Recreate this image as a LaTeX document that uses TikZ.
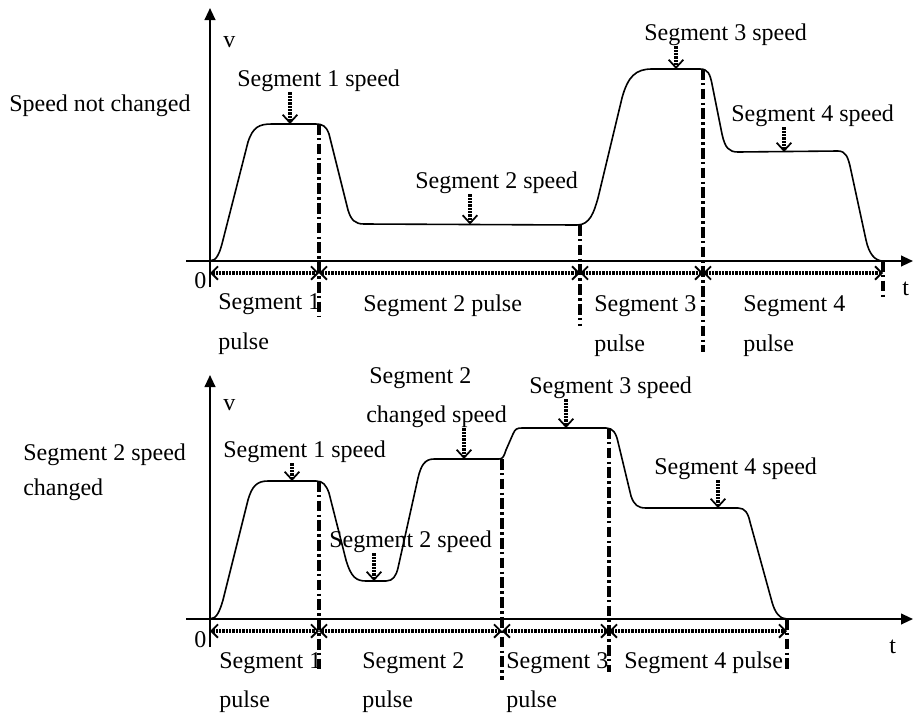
\documentclass[tikz,border=0pt]{standalone}
\usepackage{fontspec}
\setmainfont{Liberation Serif}
\usepackage{tikz}
\usetikzlibrary{arrows.meta}

\tikzset{
  lbl/.style={anchor=base west,inner sep=0.75pt,font=\fontsize{18}{22}\selectfont},
  speedcurve/.style={line width=1.2pt,line join=round},
  axis/.style={line width=1.5pt,-{Triangle[length=9pt,width=8pt]}},
  boundary/.style={line width=2.8pt,dash pattern=on 8pt off 2.5pt on 1.8pt off 2.5pt},
  pulse/.style={line width=2.8pt,dash pattern=on 1.7pt off 0.8pt,
    {Straight Barb[length=5pt,width=10pt,line width=1.4pt]}-{Straight Barb[length=5pt,width=10pt,line width=1.4pt]}},
  pointer/.style={line width=2.8pt,dash pattern=on 1.7pt off 0.8pt,
    -{Straight Barb[length=6pt,width=11pt,line width=1.3pt]}}
}

\begin{document}
\begin{tikzpicture}[x=0.75pt,y=0.75pt,yscale=-1,xscale=1]
\path[use as bounding box] (0,0) rectangle (914,718);

%%%%%%%%%% upper plot: speed not changed
%Shape: Axis 2D
\draw[axis] (186,261) -- (913,261);
\draw[axis] (210,287) -- (210,8);

%Straight Lines: segment boundaries
\draw[boundary] (319,124) -- (319,316);
\draw[boundary] (580,225) -- (580,326);
\draw[boundary] (703,69) -- (703,352);
\draw[boundary] (883,261) -- (883,297);

%Curve Lines
\draw[speedcurve] (210,261) .. controls (217,261) and (220,252) .. (223,240) -- (248,142)
  .. controls (253,127) and (259,124) .. (272,124) -- (315,124)
  .. controls (323,124) and (326,126) .. (329,134) -- (348,210)
  .. controls (351,220) and (355,224) .. (364,224) -- (577,225)
  .. controls (590,225) and (594,212) .. (598,198) -- (622,98)
  .. controls (628,76) and (636,69) .. (652,69) -- (700,69)
  .. controls (708,69) and (710,74) .. (712,84) -- (722,134)
  .. controls (725,148) and (729,152) .. (738,152) -- (838,151)
  .. controls (846,151) and (848,158) .. (850,166) -- (866,240)
  .. controls (869,254) and (875,261) .. (883,261);

% pulse ranges
\coordinate (a0) at (210,273);
\coordinate (a1) at (319,273);
\coordinate (a2) at (580,273);
\coordinate (a3) at (703,273);
\coordinate (a4) at (883,273);
\draw[pulse] (a0) -- (a1);
\draw[pulse] (a1) -- (a2);
\draw[pulse] (a2) -- (a3);
\draw[pulse] (a3) -- (a4);

% Text Node
\node[lbl] (av) at (222,47) {v};
\node[lbl] (azero) at (193,288) {0};
\node[lbl] (at) at (901,295) {t};
\node[lbl] (atitle) at (8,111) {Speed not changed};
% Text Node
\node[lbl] (aspd1) at (236,86) {Segment 1 speed};
\node[lbl] (aspd2) at (414,188) {Segment 2 speed};
\node[lbl] (aspd3) at (643,40) {Segment 3 speed};
\node[lbl] (aspd4) at (730,121) {Segment 4 speed};
% Text Node
\node[lbl] (apls1) at (217,309) {Segment 1};
\node[lbl] (apls1b) at (217,349) {pulse};
\node[lbl] (apls2) at (362,311) {Segment 2 pulse};
\node[lbl] (apls3) at (593,311) {Segment 3};
\node[lbl] (apls3b) at (593,351) {pulse};
\node[lbl] (apls4) at (742,311) {Segment 4};
\node[lbl] (apls4b) at (742,351) {pulse};

% speed pointers
\coordinate (as1) at (290,124);
\coordinate (as2) at (470,224.5);
\coordinate (as3) at (676,69);
\coordinate (as4) at (784,152);
\draw[pointer] (aspd1.south -| as1) -- (as1);
\draw[pointer] (aspd2.south -| as2) -- (as2);
\draw[pointer] (aspd3.south -| as3) -- (as3);
\draw[pointer] (aspd4.south -| as4) -- (as4);

%%%%%%%%%% lower plot: segment 2 speed changed
%Shape: Axis 2D
\draw[axis] (186,619) -- (913,619);
\draw[axis] (210,647) -- (210,375);

%Straight Lines: segment boundaries
\draw[boundary] (319,481) -- (319,672);
\draw[boundary] (502,459) -- (502,680);
\draw[boundary] (609,428) -- (609,672);
\draw[boundary] (787,619) -- (787,672);

%Curve Lines
\draw[speedcurve] (210,619) .. controls (217,619) and (220,610) .. (223,600) -- (248,500)
  .. controls (252,486) and (257,481) .. (268,481) -- (316,481)
  .. controls (323,481) and (326,485) .. (329,493) -- (346,560)
  .. controls (351,577) and (356,581) .. (366,581) -- (386,581)
  .. controls (393,581) and (396,576) .. (398,568) -- (418,478)
  .. controls (421,465) and (425,459) .. (434,459) -- (499,459)
  .. controls (503,459) and (504,456) .. (506,450) -- (513,434)
  .. controls (515,429) and (517,428) .. (522,428) -- (606,428)
  .. controls (613,428) and (616,433) .. (618,442) -- (631,496)
  .. controls (634,505) and (638,508) .. (646,508) -- (738,508)
  .. controls (745,508) and (748,513) .. (750,522) -- (772,602)
  .. controls (775,613) and (780,619) .. (787,619);

% pulse ranges
\coordinate (b0) at (210,631);
\coordinate (b1) at (319,631);
\coordinate (b2) at (502,631);
\coordinate (b3) at (609,631);
\coordinate (b4) at (787,631);
\draw[pulse] (b0) -- (b1);
\draw[pulse] (b1) -- (b2);
\draw[pulse] (b2) -- (b3);
\draw[pulse] (b3) -- (b4);

% Text Node
\node[lbl] (bv) at (222,410) {v};
\node[lbl] (bzero) at (193,647) {0};
\node[lbl] (bt) at (888,653) {t};
\node[lbl] (btitle) at (22,460) {Segment 2 speed};
\node[lbl] (btitleb) at (22,495) {changed};
% Text Node
\node[lbl] (bspd1) at (222,457) {Segment 1 speed};
\node[lbl] (bspd2) at (328,547) {Segment 2 speed};
\node[lbl] (bchg) at (368,383) {Segment 2};
\node[lbl] (bchgb) at (365,422) {changed speed};
\node[lbl] (bspd3) at (528,393) {Segment 3 speed};
\node[lbl] (bspd4) at (653,474) {Segment 4 speed};
% Text Node
\node[lbl] (bpls1) at (218,668) {Segment 1};
\node[lbl] (bpls1b) at (218,707) {pulse};
\node[lbl] (bpls2) at (361,668) {Segment 2};
\node[lbl] (bpls2b) at (361,707) {pulse};
\node[lbl] (bpls3) at (505,668) {Segment 3};
\node[lbl] (bpls3b) at (505,707) {pulse};
\node[lbl] (bpls4) at (623,668) {Segment 4 pulse};

% speed pointers
\coordinate (bs1) at (292,481);
\coordinate (bs2) at (374,581);
\coordinate (bs3) at (464,459);
\coordinate (bs4) at (566,428);
\coordinate (bs5) at (718,508);
\draw[pointer] (bspd1.south -| bs1) -- (bs1);
\draw[pointer] (bspd2.south -| bs2) -- (bs2);
\draw[pointer] (bchgb.south -| bs3) -- (bs3);
\draw[pointer] (bspd3.south -| bs4) -- (bs4);
\draw[pointer] (bspd4.south -| bs5) -- (bs5);

\end{tikzpicture}
\end{document}
